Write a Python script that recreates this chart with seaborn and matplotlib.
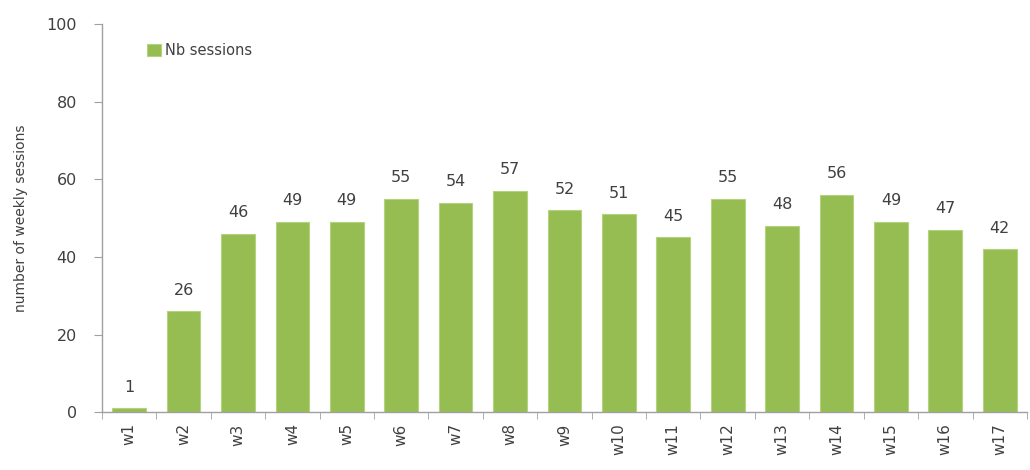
import numpy as np
import matplotlib
matplotlib.use("Agg")
import matplotlib.pyplot as plt
import pandas as pd
import seaborn as sns

weeks = ["w1", "w2", "w3", "w4", "w5", "w6", "w7", "w8", "w9", "w10",
         "w11", "w12", "w13", "w14", "w15", "w16", "w17"]
sessions = [1, 26, 46, 49, 49, 55, 54, 57, 52, 51, 45, 55, 48, 56, 49, 47, 42]
series_name = "Nb sessions"

df = pd.DataFrame({"week": weeks, "sessions": sessions, "serie": series_name})

sns.set_style("white")
plt.rcParams["font.family"] = ["DejaVu Sans"]

fig = plt.figure(figsize=(10.3, 4.7), dpi=100)
ax = fig.add_axes([0.099, 0.123, 0.898, 0.826])

green = "#95BD52"
sns.barplot(data=df, x="week", y="sessions", hue="serie", palette=[green],
            width=0.62, ax=ax, saturation=1, edgecolor="#B5D37F", linewidth=0.8)

for i, v in enumerate(sessions):
    ax.text(i, v + 3.5, str(v), ha="center", va="bottom", fontsize=11.5, color="#404040")

ax.set_ylim(0, 100)
ax.set_yticks(range(0, 101, 20))
ax.set_xlim(-0.5, len(weeks) - 0.5)
ax.set_xlabel("")
ax.set_ylabel("number of weekly sessions", fontsize=10, color="#404040", labelpad=13)
ax.tick_params(axis="y", labelsize=11.5, colors="#404040", length=6, color="#A0A0A0",
               left=True, pad=12)
ax.set_xticks(np.arange(-0.5, len(weeks), 1), minor=True)
ax.tick_params(axis="x", which="major", length=0, labelsize=11, colors="#404040",
               rotation=90, pad=8)
ax.tick_params(axis="x", which="minor", length=5, color="#A0A0A0", bottom=True)

for s in ["top", "right"]:
    ax.spines[s].set_visible(False)
for s in ["left", "bottom"]:
    ax.spines[s].set_color("#A0A0A0")
    ax.spines[s].set_linewidth(1)

ax.legend(loc="upper left", bbox_to_anchor=(0.035, 0.985), frameon=False, fontsize=10.5,
          handlelength=0.9, handleheight=0.9, handletextpad=0.3, labelcolor="#404040")

plt.savefig("out.png", dpi=100)
